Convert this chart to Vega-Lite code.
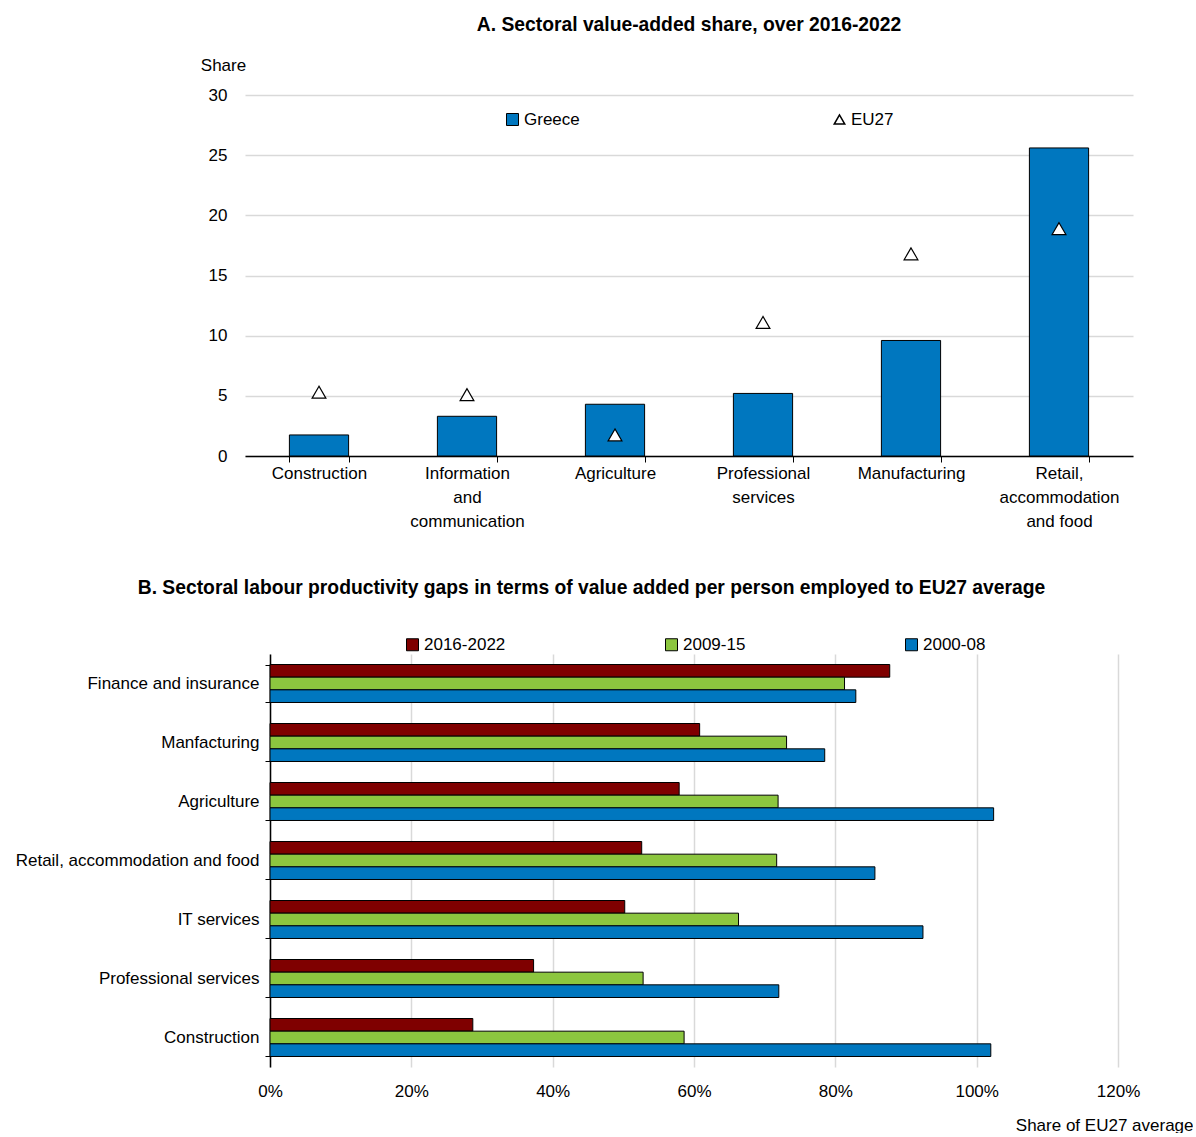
{
  "$schema": "https://vega.github.io/schema/vega-lite/v6.json",
  "padding": {"left": 0, "top": 15, "right": 0, "bottom": 0},
  "background": "white",
  "spacing": 49,
  "resolve": {"scale": {"fill": "independent", "shape": "independent"}, "legend": {"fill": "independent", "shape": "independent"}},
  "config": {
    "font": "Liberation Sans",
    "view": {"stroke": null},
    "axis": {"labelFont": "Liberation Sans", "labelFontSize": 17, "labelColor": "black", "labelLimit": 400, "titleFont": "Liberation Sans", "titleFontSize": 17, "titleFontWeight": "normal", "titleColor": "black"},
    "legend": {"labelFont": "Liberation Sans", "labelFontSize": 17, "labelColor": "black", "labelLimit": 300},
    "title": {"font": "Liberation Sans", "fontSize": 19.3, "fontWeight": "bold", "color": "black"}
  },
  "vconcat": [
    {
      "title": {"text": "A. Sectoral value-added share, over 2016-2022", "anchor": "middle", "frame": "group", "offset": 21},
      "width": 888,
      "height": 361,
      "data": {"values": [
        {"sector": "Construction", "greece": 1.75, "eu27": 5.3},
        {"sector": "Information and communication", "greece": 3.3, "eu27": 5.1},
        {"sector": "Agriculture", "greece": 4.3, "eu27": 1.75},
        {"sector": "Professional services", "greece": 5.2, "eu27": 11.1},
        {"sector": "Manufacturing", "greece": 9.6, "eu27": 16.8},
        {"sector": "Retail, accommodation and food", "greece": 25.6, "eu27": 18.9}
      ]},
      "encoding": {
        "x": {
          "field": "sector", "type": "nominal", "sort": null,
          "scale": {"paddingInner": 0.6, "paddingOuter": 0.3},
          "axis": {
            "title": null, "labelAngle": 0, "domainColor": "black", "domainWidth": 1.5,
            "tickColor": "black", "tickSize": 6, "tickBand": "extent", "labelPadding": 3,
            "labelBaseline": "top", "labelLineHeight": 24,
            "labelExpr": "datum.value == 'Information and communication' ? ['Information','and','communication'] : datum.value == 'Professional services' ? ['Professional','services'] : datum.value == 'Retail, accommodation and food' ? ['Retail,','accommodation','and food'] : datum.value"
          }
        }
      },
      "layer": [
        {
          "mark": {"type": "bar", "stroke": "black", "strokeWidth": 1},
          "encoding": {
            "y": {
              "field": "greece", "type": "quantitative",
              "scale": {"domain": [0, 30]},
              "axis": {
                "title": "Share", "titleAngle": 0, "titleX": -22, "titleY": -30,
                "titleAlign": "center", "titleBaseline": "middle",
                "domain": false, "ticks": false, "labelPadding": 18,
                "values": [0, 5, 10, 15, 20, 25, 30],
                "gridColor": "#d9d9d9", "gridWidth": 1.5, "minExtent": 245
              }
            },
            "fill": {
              "datum": "Greece", "type": "nominal",
              "scale": {"range": ["#0077BF"]},
              "legend": {"orient": "none", "legendX": 259, "legendY": 16, "title": null, "padding": 0,
                "symbolType": "square", "symbolSize": 144, "symbolStrokeColor": "black", "symbolStrokeWidth": 1, "labelOffset": 3}
            }
          }
        },
        {
          "mark": {"type": "point", "filled": true, "fill": "white", "stroke": "black", "strokeWidth": 1.2, "size": 190, "opacity": 1},
          "encoding": {
            "y": {"field": "eu27", "type": "quantitative"},
            "shape": {
              "datum": "EU27", "type": "nominal",
              "scale": {"range": ["triangle-up"]},
              "legend": {"orient": "none", "legendX": 586, "legendY": 16, "title": null, "padding": 0,
                "symbolSize": 110, "labelOffset": 3,
                "encode": {"symbols": {"update": {"fill": {"value": "white"}, "stroke": {"value": "black"}, "strokeWidth": {"value": 1}, "opacity": {"value": 1}}}}}
            }
          }
        }
      ]
    },
    {
      "title": {"text": "B. Sectoral labour productivity gaps in terms of value added per person employed to EU27 average", "anchor": "middle", "frame": "group", "dx": -90, "offset": 38},
      "width": 873,
      "height": 413,
      "data": {"values": [
        {"sector": "Finance and insurance", "period": "2016-2022", "value": 87.7},
        {"sector": "Finance and insurance", "period": "2009-15", "value": 81.3},
        {"sector": "Finance and insurance", "period": "2000-08", "value": 82.9},
        {"sector": "Manfacturing", "period": "2016-2022", "value": 60.8},
        {"sector": "Manfacturing", "period": "2009-15", "value": 73.1},
        {"sector": "Manfacturing", "period": "2000-08", "value": 78.5},
        {"sector": "Agriculture", "period": "2016-2022", "value": 57.9},
        {"sector": "Agriculture", "period": "2009-15", "value": 71.9},
        {"sector": "Agriculture", "period": "2000-08", "value": 102.4},
        {"sector": "Retail, accommodation and food", "period": "2016-2022", "value": 52.6},
        {"sector": "Retail, accommodation and food", "period": "2009-15", "value": 71.7},
        {"sector": "Retail, accommodation and food", "period": "2000-08", "value": 85.6},
        {"sector": "IT services", "period": "2016-2022", "value": 50.2},
        {"sector": "IT services", "period": "2009-15", "value": 66.3},
        {"sector": "IT services", "period": "2000-08", "value": 92.4},
        {"sector": "Professional services", "period": "2016-2022", "value": 37.3},
        {"sector": "Professional services", "period": "2009-15", "value": 52.8},
        {"sector": "Professional services", "period": "2000-08", "value": 72.0},
        {"sector": "Construction", "period": "2016-2022", "value": 28.7},
        {"sector": "Construction", "period": "2009-15", "value": 58.6},
        {"sector": "Construction", "period": "2000-08", "value": 102.0}
      ]},
      "mark": {"type": "bar", "stroke": "black", "strokeWidth": 1},
      "encoding": {
        "y": {
          "field": "sector", "type": "nominal", "sort": null,
          "scale": {"paddingInner": 0.356, "paddingOuter": 0.178},
          "axis": {"title": null, "offset": -25, "domainColor": "black", "domainWidth": 1.5, "tickColor": "black", "tickBand": "extent", "tickSize": 5, "labelPadding": 6, "grid": false}
        },
        "yOffset": {"field": "period", "type": "nominal", "sort": ["2016-2022", "2009-15", "2000-08"]},
        "x": {
          "field": "value", "type": "quantitative",
          "scale": {"domain": [0, 120], "range": [25, 873]},
          "axis": {
            "values": [0, 20, 40, 60, 80, 100, 120], "labelExpr": "datum.value + '%'", "labelFlush": false,
            "domain": false, "ticks": false, "gridColor": "#d9d9d9", "gridWidth": 1.5, "labelPadding": 16,
            "title": "Share of EU27 average", "titleAnchor": "end", "titleAlign": "right", "titleX": 948, "titleY": 58, "titleBaseline": "middle"
          }
        },
        "fill": {
          "field": "period", "type": "nominal",
          "scale": {"domain": ["2016-2022", "2009-15", "2000-08"], "range": ["#7F0000", "#8CC63F", "#0077BF"]},
          "legend": {"orient": "none", "legendX": 159, "legendY": -18, "direction": "horizontal", "title": null, "padding": 0,
            "columnPadding": 157, "symbolType": "square", "symbolSize": 144, "symbolStrokeColor": "black", "symbolStrokeWidth": 1, "labelOffset": 3}
        }
      }
    }
  ]
}
